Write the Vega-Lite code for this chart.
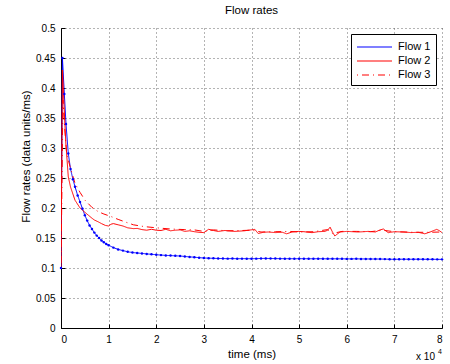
{
  "$schema": "https://vega.github.io/schema/vega-lite/v6.json",
  "autosize": {"type": "none"},
  "padding": {"left": 61, "top": 28, "right": 8, "bottom": 36},
  "width": 381,
  "height": 300,
  "background": "white",
  "view": {"stroke": null},
  "config": {
    "font": "Liberation Sans",
    "axis": {
      "labelFont": "Liberation Sans",
      "titleFont": "Liberation Sans",
      "labelFontSize": 10,
      "titleFontSize": 11.5,
      "labelColor": "#000",
      "titleColor": "#000",
      "titleFontWeight": "normal",
      "domainColor": "#000",
      "domainWidth": 1,
      "tickColor": "#000",
      "tickSize": -4,
      "labelPadding": 10,
      "gridColor": "#444",
      "gridDash": [1, 3],
      "gridWidth": 1,
      "gridOpacity": 0.8
    },
    "legend": {
      "labelFont": "Liberation Sans",
      "labelFontSize": 11,
      "labelColor": "#000",
      "orient": "none",
      "legendX": 290,
      "legendY": 6,
      "strokeColor": "#000",
      "fillColor": "#fff",
      "padding": 5,
      "symbolType": "M-1,0H4",
      "symbolSize": 196,
      "symbolStrokeWidth": 1.2,
      "labelOffset": 26,
      "rowPadding": 1
    }
  },
  "title": {
    "text": "Flow rates",
    "font": "Liberation Sans",
    "fontSize": 11.5,
    "fontWeight": "normal",
    "color": "#000",
    "anchor": "middle",
    "baseline": "top",
    "offset": 7
  },
  "datasets": {
    "flows": [
      {"t": 0, "v": 0.100, "flow": "Flow 1"},
      {"t": 300, "v": 0.450, "flow": "Flow 1"},
      {"t": 700, "v": 0.390, "flow": "Flow 1"},
      {"t": 1050, "v": 0.340, "flow": "Flow 1"},
      {"t": 1530, "v": 0.291, "flow": "Flow 1"},
      {"t": 2000, "v": 0.265, "flow": "Flow 1"},
      {"t": 2500, "v": 0.248, "flow": "Flow 1"},
      {"t": 2940, "v": 0.2355, "flow": "Flow 1"},
      {"t": 3500, "v": 0.221, "flow": "Flow 1"},
      {"t": 4000, "v": 0.210, "flow": "Flow 1"},
      {"t": 4500, "v": 0.199, "flow": "Flow 1"},
      {"t": 5000, "v": 0.188, "flow": "Flow 1"},
      {"t": 5500, "v": 0.179, "flow": "Flow 1"},
      {"t": 6000, "v": 0.171, "flow": "Flow 1"},
      {"t": 6500, "v": 0.165, "flow": "Flow 1"},
      {"t": 7000, "v": 0.159, "flow": "Flow 1"},
      {"t": 7500, "v": 0.154, "flow": "Flow 1"},
      {"t": 8000, "v": 0.150, "flow": "Flow 1"},
      {"t": 8500, "v": 0.146, "flow": "Flow 1"},
      {"t": 9000, "v": 0.143, "flow": "Flow 1"},
      {"t": 9500, "v": 0.140, "flow": "Flow 1"},
      {"t": 10000, "v": 0.138, "flow": "Flow 1"},
      {"t": 11000, "v": 0.134, "flow": "Flow 1"},
      {"t": 12000, "v": 0.131, "flow": "Flow 1"},
      {"t": 13000, "v": 0.129, "flow": "Flow 1"},
      {"t": 14000, "v": 0.127, "flow": "Flow 1"},
      {"t": 15000, "v": 0.1258, "flow": "Flow 1"},
      {"t": 16000, "v": 0.125, "flow": "Flow 1"},
      {"t": 17000, "v": 0.1243, "flow": "Flow 1"},
      {"t": 18000, "v": 0.1235, "flow": "Flow 1"},
      {"t": 19000, "v": 0.1228, "flow": "Flow 1"},
      {"t": 20000, "v": 0.1222, "flow": "Flow 1"},
      {"t": 21000, "v": 0.1215, "flow": "Flow 1"},
      {"t": 22000, "v": 0.121, "flow": "Flow 1"},
      {"t": 23000, "v": 0.1207, "flow": "Flow 1"},
      {"t": 24000, "v": 0.1203, "flow": "Flow 1"},
      {"t": 25000, "v": 0.120, "flow": "Flow 1"},
      {"t": 26000, "v": 0.1192, "flow": "Flow 1"},
      {"t": 27000, "v": 0.1185, "flow": "Flow 1"},
      {"t": 28000, "v": 0.118, "flow": "Flow 1"},
      {"t": 29000, "v": 0.1172, "flow": "Flow 1"},
      {"t": 30000, "v": 0.1167, "flow": "Flow 1"},
      {"t": 31000, "v": 0.1164, "flow": "Flow 1"},
      {"t": 32000, "v": 0.1161, "flow": "Flow 1"},
      {"t": 33000, "v": 0.1159, "flow": "Flow 1"},
      {"t": 34000, "v": 0.1157, "flow": "Flow 1"},
      {"t": 35000, "v": 0.1156, "flow": "Flow 1"},
      {"t": 36000, "v": 0.1157, "flow": "Flow 1"},
      {"t": 37000, "v": 0.1155, "flow": "Flow 1"},
      {"t": 38000, "v": 0.1156, "flow": "Flow 1"},
      {"t": 39000, "v": 0.1155, "flow": "Flow 1"},
      {"t": 40000, "v": 0.1155, "flow": "Flow 1"},
      {"t": 41000, "v": 0.1156, "flow": "Flow 1"},
      {"t": 42000, "v": 0.1159, "flow": "Flow 1"},
      {"t": 43000, "v": 0.116, "flow": "Flow 1"},
      {"t": 44000, "v": 0.1158, "flow": "Flow 1"},
      {"t": 45000, "v": 0.1157, "flow": "Flow 1"},
      {"t": 46000, "v": 0.1156, "flow": "Flow 1"},
      {"t": 47000, "v": 0.1155, "flow": "Flow 1"},
      {"t": 48000, "v": 0.1155, "flow": "Flow 1"},
      {"t": 49000, "v": 0.1154, "flow": "Flow 1"},
      {"t": 50000, "v": 0.1155, "flow": "Flow 1"},
      {"t": 51000, "v": 0.1155, "flow": "Flow 1"},
      {"t": 52000, "v": 0.1154, "flow": "Flow 1"},
      {"t": 53000, "v": 0.1154, "flow": "Flow 1"},
      {"t": 54000, "v": 0.1155, "flow": "Flow 1"},
      {"t": 55000, "v": 0.1154, "flow": "Flow 1"},
      {"t": 56000, "v": 0.1153, "flow": "Flow 1"},
      {"t": 57000, "v": 0.1154, "flow": "Flow 1"},
      {"t": 58000, "v": 0.1153, "flow": "Flow 1"},
      {"t": 59000, "v": 0.1153, "flow": "Flow 1"},
      {"t": 60000, "v": 0.1152, "flow": "Flow 1"},
      {"t": 61000, "v": 0.1152, "flow": "Flow 1"},
      {"t": 62000, "v": 0.1153, "flow": "Flow 1"},
      {"t": 63000, "v": 0.1151, "flow": "Flow 1"},
      {"t": 64000, "v": 0.1151, "flow": "Flow 1"},
      {"t": 65000, "v": 0.115, "flow": "Flow 1"},
      {"t": 66000, "v": 0.115, "flow": "Flow 1"},
      {"t": 67000, "v": 0.1149, "flow": "Flow 1"},
      {"t": 68000, "v": 0.1148, "flow": "Flow 1"},
      {"t": 69000, "v": 0.1146, "flow": "Flow 1"},
      {"t": 70000, "v": 0.1145, "flow": "Flow 1"},
      {"t": 71000, "v": 0.1146, "flow": "Flow 1"},
      {"t": 72000, "v": 0.1147, "flow": "Flow 1"},
      {"t": 73000, "v": 0.1146, "flow": "Flow 1"},
      {"t": 74000, "v": 0.1146, "flow": "Flow 1"},
      {"t": 75000, "v": 0.1147, "flow": "Flow 1"},
      {"t": 76000, "v": 0.1146, "flow": "Flow 1"},
      {"t": 77000, "v": 0.1145, "flow": "Flow 1"},
      {"t": 78000, "v": 0.1145, "flow": "Flow 1"},
      {"t": 79000, "v": 0.1144, "flow": "Flow 1"},
      {"t": 80000, "v": 0.1144, "flow": "Flow 1"},

      {"t": 0, "v": 0.100, "flow": "Flow 2"},
      {"t": 300, "v": 0.430, "flow": "Flow 2"},
      {"t": 700, "v": 0.360, "flow": "Flow 2"},
      {"t": 1000, "v": 0.310, "flow": "Flow 2"},
      {"t": 1530, "v": 0.252, "flow": "Flow 2"},
      {"t": 2000, "v": 0.235, "flow": "Flow 2"},
      {"t": 2940, "v": 0.213, "flow": "Flow 2"},
      {"t": 4000, "v": 0.200, "flow": "Flow 2"},
      {"t": 5000, "v": 0.193, "flow": "Flow 2"},
      {"t": 5740, "v": 0.188, "flow": "Flow 2"},
      {"t": 6500, "v": 0.183, "flow": "Flow 2"},
      {"t": 7000, "v": 0.180, "flow": "Flow 2"},
      {"t": 7800, "v": 0.177, "flow": "Flow 2"},
      {"t": 8500, "v": 0.174, "flow": "Flow 2"},
      {"t": 9300, "v": 0.171, "flow": "Flow 2"},
      {"t": 10000, "v": 0.170, "flow": "Flow 2"},
      {"t": 10500, "v": 0.173, "flow": "Flow 2"},
      {"t": 11000, "v": 0.174, "flow": "Flow 2"},
      {"t": 12000, "v": 0.172, "flow": "Flow 2"},
      {"t": 13000, "v": 0.170, "flow": "Flow 2"},
      {"t": 14000, "v": 0.167, "flow": "Flow 2"},
      {"t": 15200, "v": 0.1656, "flow": "Flow 2"},
      {"t": 16000, "v": 0.166, "flow": "Flow 2"},
      {"t": 17000, "v": 0.164, "flow": "Flow 2"},
      {"t": 18000, "v": 0.163, "flow": "Flow 2"},
      {"t": 19000, "v": 0.1645, "flow": "Flow 2"},
      {"t": 20000, "v": 0.163, "flow": "Flow 2"},
      {"t": 21000, "v": 0.1625, "flow": "Flow 2"},
      {"t": 22000, "v": 0.1645, "flow": "Flow 2"},
      {"t": 23000, "v": 0.162, "flow": "Flow 2"},
      {"t": 24000, "v": 0.163, "flow": "Flow 2"},
      {"t": 25000, "v": 0.1635, "flow": "Flow 2"},
      {"t": 26000, "v": 0.161, "flow": "Flow 2"},
      {"t": 27000, "v": 0.162, "flow": "Flow 2"},
      {"t": 28000, "v": 0.1605, "flow": "Flow 2"},
      {"t": 29000, "v": 0.1595, "flow": "Flow 2"},
      {"t": 30000, "v": 0.159, "flow": "Flow 2"},
      {"t": 31000, "v": 0.1645, "flow": "Flow 2"},
      {"t": 32000, "v": 0.1625, "flow": "Flow 2"},
      {"t": 33000, "v": 0.161, "flow": "Flow 2"},
      {"t": 34400, "v": 0.1625, "flow": "Flow 2"},
      {"t": 36500, "v": 0.161, "flow": "Flow 2"},
      {"t": 38500, "v": 0.162, "flow": "Flow 2"},
      {"t": 40700, "v": 0.1644, "flow": "Flow 2"},
      {"t": 41400, "v": 0.1575, "flow": "Flow 2"},
      {"t": 42500, "v": 0.1595, "flow": "Flow 2"},
      {"t": 43500, "v": 0.160, "flow": "Flow 2"},
      {"t": 45000, "v": 0.159, "flow": "Flow 2"},
      {"t": 46500, "v": 0.1595, "flow": "Flow 2"},
      {"t": 47400, "v": 0.157, "flow": "Flow 2"},
      {"t": 48500, "v": 0.160, "flow": "Flow 2"},
      {"t": 49900, "v": 0.161, "flow": "Flow 2"},
      {"t": 51000, "v": 0.1605, "flow": "Flow 2"},
      {"t": 52700, "v": 0.1589, "flow": "Flow 2"},
      {"t": 54000, "v": 0.1605, "flow": "Flow 2"},
      {"t": 55400, "v": 0.161, "flow": "Flow 2"},
      {"t": 56000, "v": 0.163, "flow": "Flow 2"},
      {"t": 56500, "v": 0.168, "flow": "Flow 2"},
      {"t": 57000, "v": 0.160, "flow": "Flow 2"},
      {"t": 57500, "v": 0.1533, "flow": "Flow 2"},
      {"t": 58000, "v": 0.1565, "flow": "Flow 2"},
      {"t": 58600, "v": 0.160, "flow": "Flow 2"},
      {"t": 60000, "v": 0.161, "flow": "Flow 2"},
      {"t": 62400, "v": 0.160, "flow": "Flow 2"},
      {"t": 63500, "v": 0.1605, "flow": "Flow 2"},
      {"t": 64500, "v": 0.161, "flow": "Flow 2"},
      {"t": 66000, "v": 0.160, "flow": "Flow 2"},
      {"t": 67000, "v": 0.1635, "flow": "Flow 2"},
      {"t": 67700, "v": 0.165, "flow": "Flow 2"},
      {"t": 68700, "v": 0.1589, "flow": "Flow 2"},
      {"t": 70000, "v": 0.1605, "flow": "Flow 2"},
      {"t": 72000, "v": 0.160, "flow": "Flow 2"},
      {"t": 73500, "v": 0.159, "flow": "Flow 2"},
      {"t": 75000, "v": 0.1595, "flow": "Flow 2"},
      {"t": 76400, "v": 0.157, "flow": "Flow 2"},
      {"t": 77500, "v": 0.160, "flow": "Flow 2"},
      {"t": 78900, "v": 0.1644, "flow": "Flow 2"},
      {"t": 79500, "v": 0.162, "flow": "Flow 2"},
      {"t": 80000, "v": 0.1589, "flow": "Flow 2"},

      {"t": 0, "v": 0.100, "flow": "Flow 3"},
      {"t": 400, "v": 0.380, "flow": "Flow 3"},
      {"t": 800, "v": 0.330, "flow": "Flow 3"},
      {"t": 1200, "v": 0.290, "flow": "Flow 3"},
      {"t": 1900, "v": 0.269, "flow": "Flow 3"},
      {"t": 2940, "v": 0.241, "flow": "Flow 3"},
      {"t": 4000, "v": 0.226, "flow": "Flow 3"},
      {"t": 5040, "v": 0.213, "flow": "Flow 3"},
      {"t": 6500, "v": 0.201, "flow": "Flow 3"},
      {"t": 7800, "v": 0.194, "flow": "Flow 3"},
      {"t": 9000, "v": 0.190, "flow": "Flow 3"},
      {"t": 10600, "v": 0.1855, "flow": "Flow 3"},
      {"t": 12000, "v": 0.181, "flow": "Flow 3"},
      {"t": 13400, "v": 0.177, "flow": "Flow 3"},
      {"t": 15200, "v": 0.172, "flow": "Flow 3"},
      {"t": 17500, "v": 0.169, "flow": "Flow 3"},
      {"t": 20000, "v": 0.167, "flow": "Flow 3"},
      {"t": 23000, "v": 0.165, "flow": "Flow 3"},
      {"t": 26000, "v": 0.164, "flow": "Flow 3"},
      {"t": 28000, "v": 0.1635, "flow": "Flow 3"},
      {"t": 30000, "v": 0.161, "flow": "Flow 3"},
      {"t": 32000, "v": 0.1635, "flow": "Flow 3"},
      {"t": 35000, "v": 0.162, "flow": "Flow 3"},
      {"t": 38000, "v": 0.1625, "flow": "Flow 3"},
      {"t": 40000, "v": 0.163, "flow": "Flow 3"},
      {"t": 42000, "v": 0.160, "flow": "Flow 3"},
      {"t": 45000, "v": 0.1605, "flow": "Flow 3"},
      {"t": 48000, "v": 0.161, "flow": "Flow 3"},
      {"t": 50000, "v": 0.160, "flow": "Flow 3"},
      {"t": 53000, "v": 0.1605, "flow": "Flow 3"},
      {"t": 56000, "v": 0.164, "flow": "Flow 3"},
      {"t": 57000, "v": 0.1575, "flow": "Flow 3"},
      {"t": 59000, "v": 0.161, "flow": "Flow 3"},
      {"t": 62000, "v": 0.161, "flow": "Flow 3"},
      {"t": 65000, "v": 0.1605, "flow": "Flow 3"},
      {"t": 67500, "v": 0.163, "flow": "Flow 3"},
      {"t": 70000, "v": 0.1605, "flow": "Flow 3"},
      {"t": 74000, "v": 0.1595, "flow": "Flow 3"},
      {"t": 77000, "v": 0.1595, "flow": "Flow 3"},
      {"t": 80000, "v": 0.160, "flow": "Flow 3"}
    ]
  },
  "data": {"name": "flows"},
  "encoding": {
    "x": {
      "field": "t",
      "type": "quantitative",
      "scale": {"domain": [0, 80000], "nice": false, "zero": false},
      "axis": {
        "title": "time (ms)",
        "values": [0, 10000, 20000, 30000, 40000, 50000, 60000, 70000, 80000],
        "labelExpr": "datum.value / 10000",
        "grid": true,
        "titlePadding": 4
      }
    },
    "y": {
      "field": "v",
      "type": "quantitative",
      "scale": {"domain": [0, 0.5], "nice": false, "zero": false},
      "axis": {
        "title": "Flow rates (data units/ms)",
        "values": [0, 0.05, 0.1, 0.15, 0.2, 0.25, 0.3, 0.35, 0.4, 0.45, 0.5],
        "format": ".2~f",
        "grid": true,
        "titlePadding": 4,
        "titleY": 128
      }
    }
  },
  "layer": [
    {
      "mark": {"type": "line", "strokeWidth": 1, "clip": true},
      "encoding": {
        "color": {
          "field": "flow",
          "type": "nominal",
          "title": null,
          "scale": {"domain": ["Flow 1", "Flow 2", "Flow 3"], "range": ["#0000ff", "#ff0000", "#ff0000"]}
        },
        "strokeDash": {
          "field": "flow",
          "type": "nominal",
          "title": null,
          "scale": {"domain": ["Flow 1", "Flow 2", "Flow 3"], "range": [[1, 0], [1, 0], [1, 4, 7, 4]]}
        }
      }
    },
    {
      "transform": [{"filter": "datum.flow === 'Flow 1'"}],
      "mark": {"type": "point", "filled": true, "size": 6, "color": "#0000ff", "opacity": 1, "strokeWidth": 0}
    },
    {
      "data": {"values": [{"t": 80000, "v": 0, "label": "x 10"}]},
      "mark": {"type": "text", "align": "right", "baseline": "alphabetic", "dx": -7, "dy": 32, "fontSize": 10, "font": "Liberation Sans", "color": "#000"},
      "encoding": {"text": {"field": "label"}}
    },
    {
      "data": {"values": [{"t": 80000, "v": 0, "label": "4"}]},
      "mark": {"type": "text", "align": "right", "baseline": "alphabetic", "dx": 0, "dy": 26, "fontSize": 7, "font": "Liberation Sans", "color": "#000"},
      "encoding": {"text": {"field": "label"}}
    }
  ]
}
